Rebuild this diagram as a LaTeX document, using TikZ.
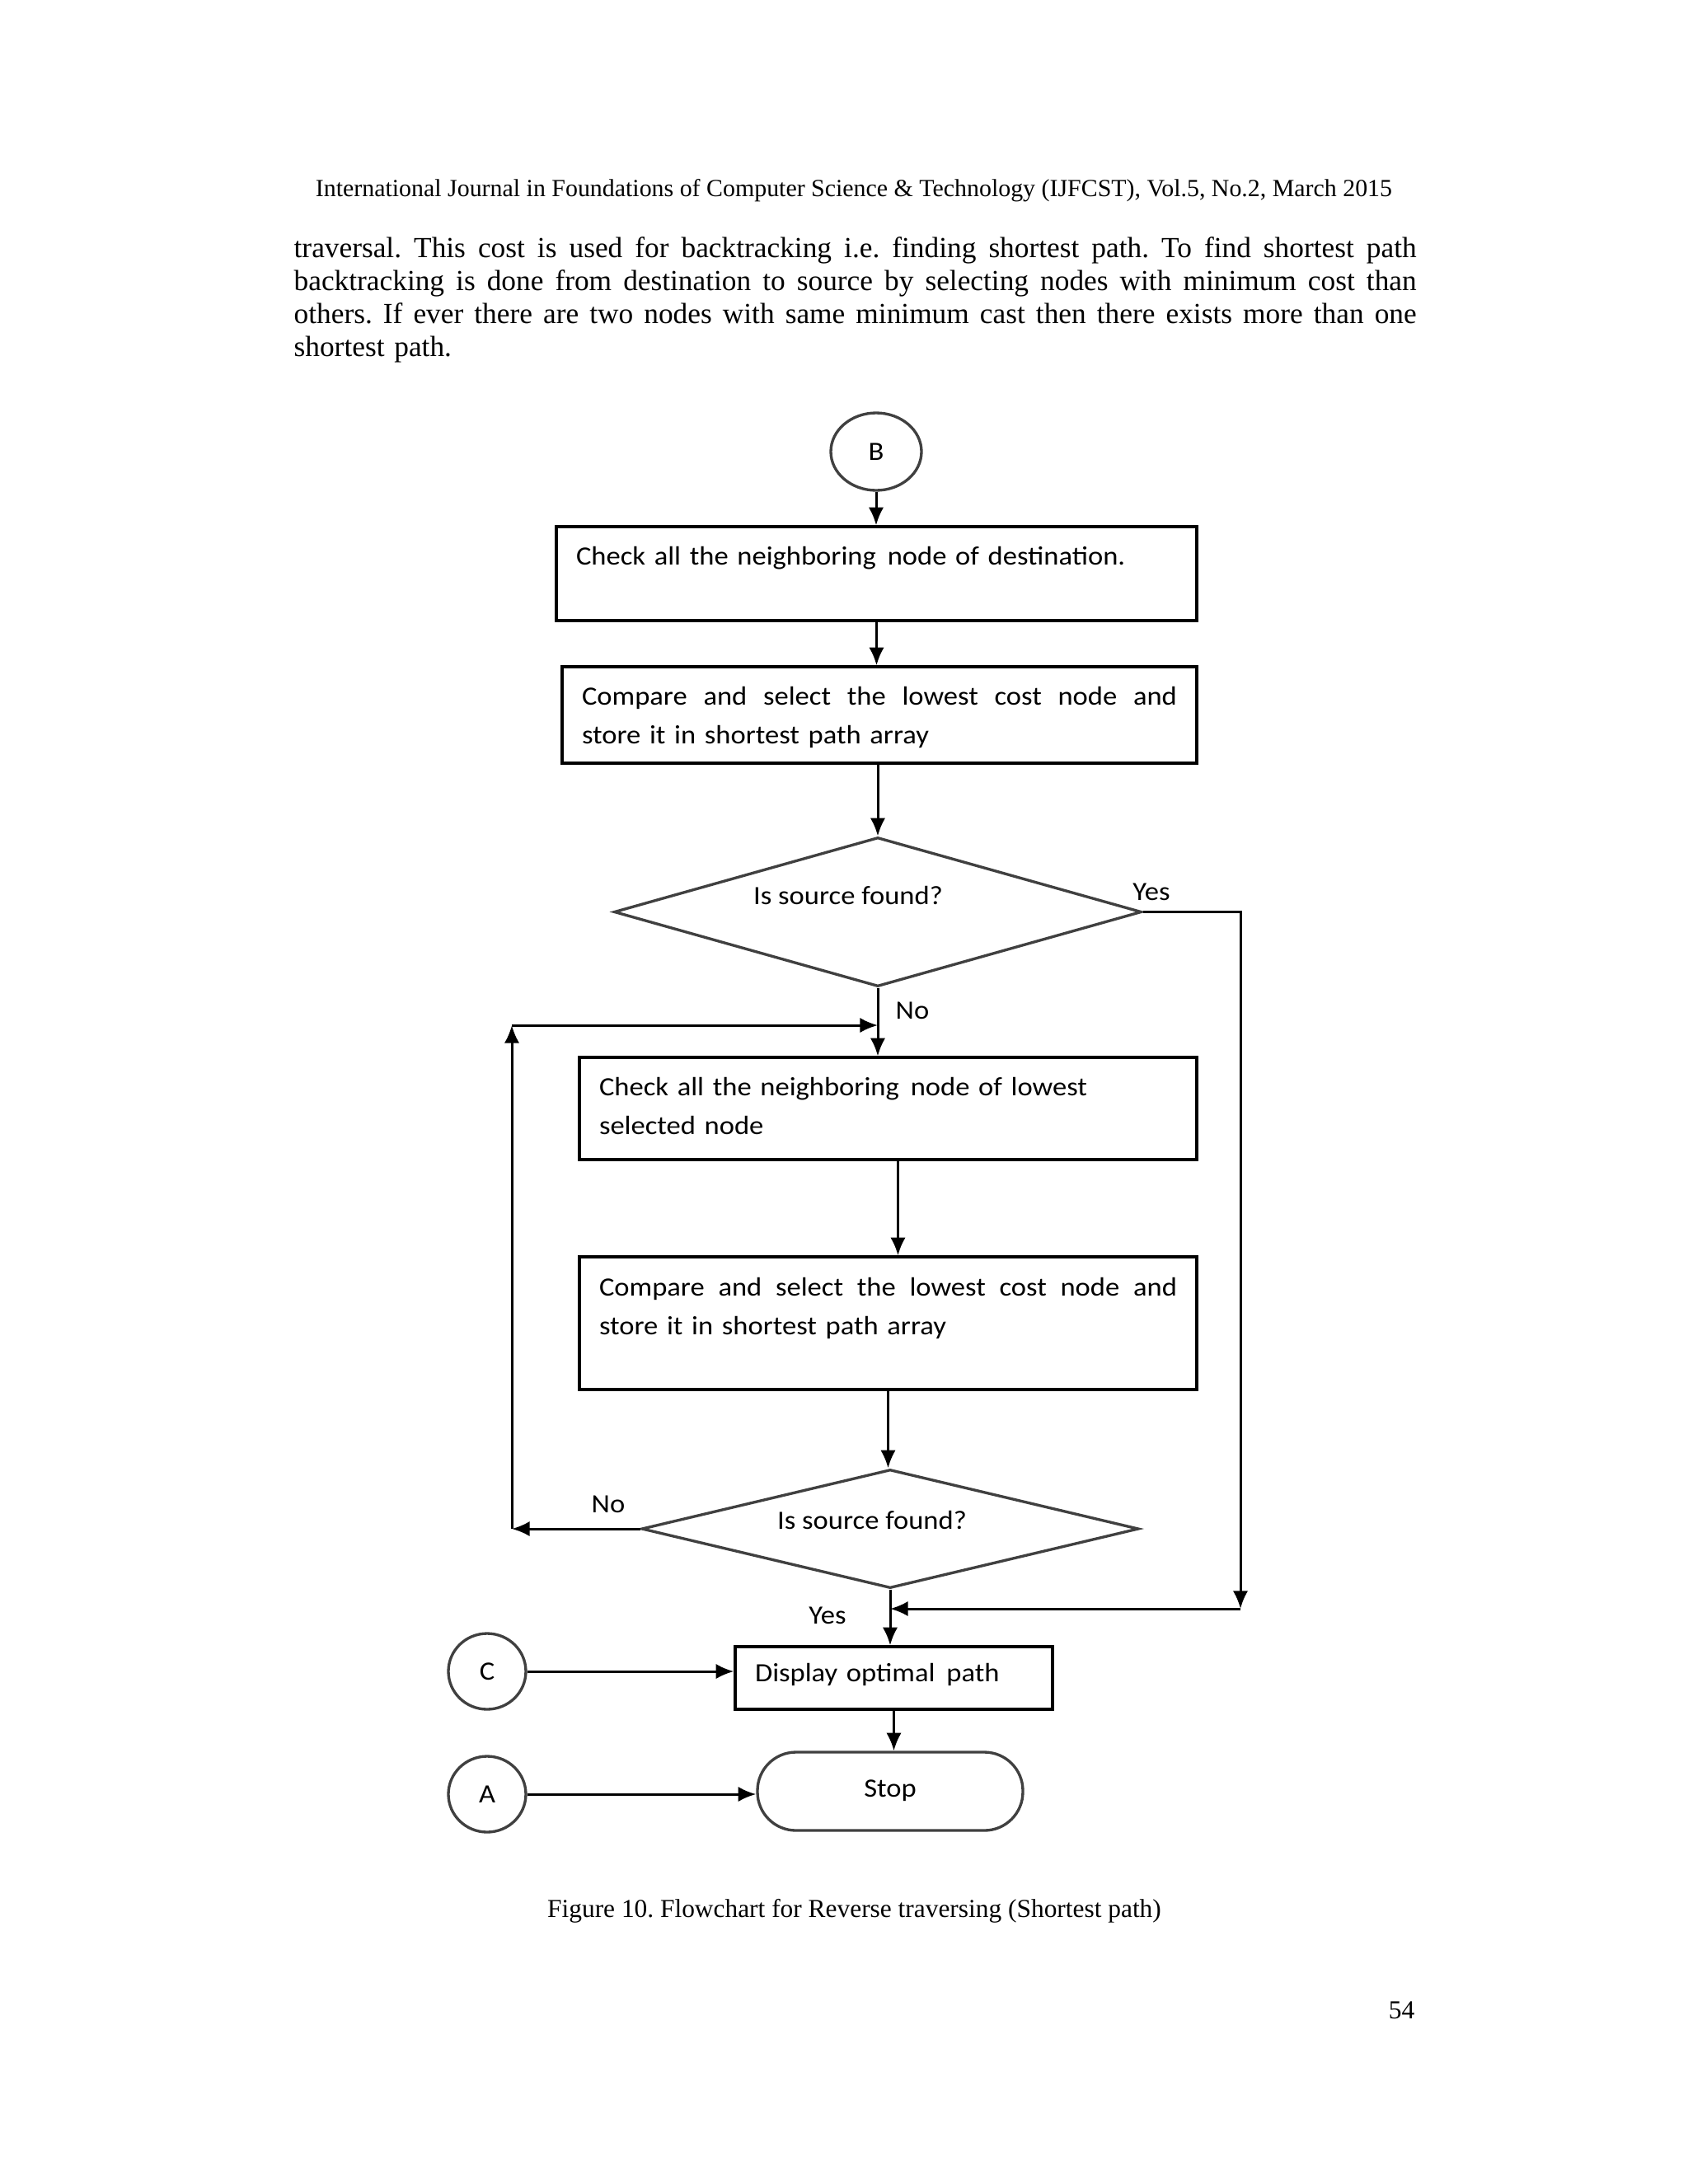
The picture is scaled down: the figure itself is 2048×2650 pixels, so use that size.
\documentclass[tikz,border=0pt]{standalone}
\usepackage{fontspec}
\setmainfont{Liberation Serif}
\newfontfamily\flowfont{Carlito}[FakeStretch=1.08]
\usetikzlibrary{calc,arrows.meta,shapes.geometric}
\frenchspacing
\newcommand{\jline}[2]{\makebox[#1][s]{\spaceskip=0pt\xspaceskip=0pt\relax #2}}

\tikzset{
	flowtxt/.style={font=\flowfont\fontsize{9.6}{14.1}\selectfont},
	procbox/.style={flowtxt, draw, line width=1pt, rectangle, inner xsep=7.2pt, inner ysep=0pt, align=left, text height=6pt},
	decbox/.style={flowtxt, diamond, draw=black!75, line width=1pt, aspect=3.5, inner sep=0pt, text height=6pt},
	termbox/.style={flowtxt, draw=black!75, line width=1pt, rounded corners=14pt, inner sep=0pt, text height=6pt},
	connbox/.style={flowtxt, ellipse, draw=black!75, line width=1pt, inner sep=0pt},
	answer/.style={flowtxt, inner sep=0pt},
	flow/.style={line width=0.9pt, -{Latex[length=6.5pt,width=5.5pt]}}
}

\begin{document}
\begin{tikzpicture}[x=0.3pt, y=-0.3pt]
			%%%%% START %%%%%
			
			\fill[white] (0, 0) rectangle (2048, 2650);
			\useasboundingbox (0, 0) rectangle (2048, 2650);
			
			\node[anchor=base, inner sep=0pt, font=\fontsize{8.97}{10}\selectfont] (hdr) at (1036, 238) {International Journal in Foundations of Computer Science \& Technology (IJFCST), Vol.5, No.2, March 2015};
			
			\node[anchor=base west, inner sep=0pt, text width=408.6pt, align=left, font=\fontsize{10.6}{12}\selectfont] (para) at (356, 312) {\jline{408.6pt}{traversal. This cost is used for backtracking i.e. finding shortest path. To find shortest path}\\
				\jline{408.6pt}{backtracking is done from destination to source by selecting nodes with minimum cost than}\\
				\jline{408.6pt}{others. If ever there are two nodes with same minimum cast then there exists more than one}\\
				shortest path.};
			
			\node[connbox, minimum width=33pt, minimum height=28.2pt] (B) at (1063, 548) {B};
			
			\node[procbox, minimum width=233.1pt, minimum height=34.2pt, text width=218.7pt, text depth=12.6pt] (chk1) at (1063.5, 696) {Check all the neighboring\hspace{1pt} node of destination.};
			\node[procbox, minimum width=231pt, minimum height=35.1pt, text width=216.6pt, text depth=13.5pt] (cmp1) at (1067, 867.5) {\jline{216.6pt}{Compare and select the lowest cost node and}\\store it in shortest path array};
			
			\node[decbox, minimum width=192pt, minimum height=54.3pt, text depth=11.7pt] (dec1) at (1065, 1106.5) {Is source found?\hspace*{21.6pt}};
			
			\node[procbox, minimum width=224.7pt, minimum height=37.2pt, text width=210.3pt, text depth=15.6pt] (chk2) at (1077.5, 1345) {Check all the neighboring\hspace{1pt} node of lowest\\selected node};
			\node[procbox, minimum width=224.7pt, minimum height=48.3pt, text width=210.3pt, text depth=26.1pt] (cmp2) at (1077.5, 1605.5) {\jline{210.3pt}{Compare and select the lowest cost node and}\\store it in shortest path array};
			
			\node[decbox, minimum width=180.9pt, minimum height=43.2pt, text depth=6pt] (dec2) at (1080, 1855) {Is source found?\hspace*{13.2pt}};
			
			\node[procbox, minimum width=115.5pt, minimum height=22.8pt, text width=101.1pt, text depth=3.6pt] (disp) at (1084.5, 2036) {Display optimal\hspace{1pt} path};
			\node[termbox, minimum width=96.6pt, minimum height=28.5pt, text depth=2.1pt] (stop) at (1080, 2173.5) {Stop};
			
			\node[connbox, minimum width=28.2pt, minimum height=27.6pt] (C) at (591, 2028) {C};
			\node[connbox, minimum width=28.2pt, minimum height=27.6pt] (A) at (591, 2177) {A};
			
			\node[answer] (yes1) at (1397, 1082) {Yes};
			\node[answer] (no1) at (1107, 1226) {No};
			\node[answer] (no2) at (738, 1825) {No};
			\node[answer] (yes2) at (1004, 1960) {Yes};
			
			\coordinate (lp) at (621, 1244);
			\coordinate (rgt) at (1505, 1952);
			\coordinate (cdn) at ($(chk2.south)+(12, 0)$);
			
			\draw[flow] (B.south) -- (B.south |- chk1.north);
			\draw[flow] (chk1.south) -- (chk1.south |- cmp1.north);
			\draw[flow] (dec1.north |- cmp1.south) -- (dec1.north);
			\draw[flow] (dec1.south) -- (dec1.south |- chk2.north);
			\draw[flow] (cdn) -- (cdn |- cmp2.north);
			\draw[flow] (cmp2.south) -- (cmp2.south |- dec2.north);
			\draw[flow] (dec2.south) -- (dec2.south |- disp.north);
			\draw[flow] (disp.south) -- (disp.south |- stop.north);
			
			% no branch back to the loop
			\draw[flow] (dec2.west) -- (dec2.west -| lp);
			\draw[flow] (dec2.west -| lp) -- (lp);
			\draw[flow] (lp) -- (dec1.south |- lp);
			
			% yes branch to the output
			\draw[flow] (dec1.east) -- (dec1.east -| rgt) -- (rgt);
			\draw[flow] (rgt) -- (dec2.south |- rgt);
			
			\draw[flow] (C.east) -- (C.east -| disp.west);
			\draw[flow] (A.east) -- (A.east -| stop.west);
			
			\node[anchor=base, inner sep=0pt, font=\fontsize{9.42}{11}\selectfont] (cap) at (1036.5, 2326) {Figure 10. Flowchart for Reverse traversing (Shortest path)};
			\node[anchor=base east, inner sep=0pt, font=\fontsize{9.45}{11}\selectfont] (pg) at (1717, 2449) {54};
			
			%%%%% END %%%%%
\end{tikzpicture}
\end{document}
